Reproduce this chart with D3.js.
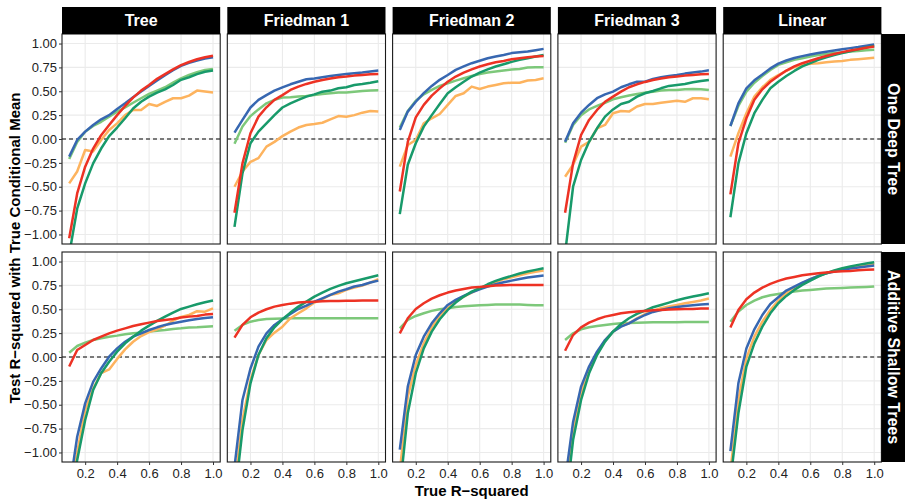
<!DOCTYPE html>
<html>
<head>
<meta charset="utf-8">
<script src="https://cdn.jsdelivr.net/npm/d3@7"></script>
<style>
body { margin: 0; background: #fff; }
svg text { font-family: "Liberation Sans", Arial, Helvetica, sans-serif; }
</style>
</head>
<body>
<svg width="905" height="499"></svg>
<script>
// facets
var columns = ["Tree", "Friedman 1", "Friedman 2", "Friedman 3", "Linear"];
var rows = ["One Deep Tree", "Additive Shallow Trees"];

var trueR2 = [0.1, 0.15, 0.2, 0.25, 0.3, 0.35, 0.4, 0.45, 0.5, 0.55, 0.6, 0.65, 0.7, 0.75, 0.8, 0.85, 0.9, 0.95, 1.0];
var xTicks = [0.2, 0.4, 0.6, 0.8, 1.0];
var yTicks = [-1, -0.75, -0.5, -0.25, 0, 0.25, 0.5, 0.75, 1];

// series order inside each panel: blue, red, dark green, light green, orange
var seriesColors = ["#3767b1", "#ed3224", "#189a6a", "#7dc87a", "#fdb35e"];
var drawOrder = [3, 4, 0, 2, 1];

// One Deep Tree
var deep_Tree = [
  [-0.185, -0.01, 0.077, 0.147, 0.206, 0.25, 0.315, 0.374, 0.437, 0.497, 0.556, 0.612, 0.668, 0.72, 0.766, 0.797, 0.822, 0.842, 0.857],
  [-1.04, -0.57, -0.29, -0.10, 0.04, 0.147, 0.25, 0.346, 0.434, 0.507, 0.566, 0.63, 0.68, 0.73, 0.773, 0.807, 0.835, 0.857, 0.872],
  [-1.21, -0.73, -0.465, -0.255, -0.10, 0.03, 0.12, 0.217, 0.32, 0.39, 0.444, 0.486, 0.52, 0.566, 0.62, 0.647, 0.68, 0.705, 0.717],
  [-0.21, -0.03, 0.077, 0.136, 0.18, 0.234, 0.287, 0.332, 0.38, 0.427, 0.472, 0.507, 0.542, 0.59, 0.636, 0.671, 0.70, 0.724, 0.734],
  [-0.465, -0.34, -0.115, -0.13, -0.01, 0.094, 0.164, 0.25, 0.304, 0.304, 0.367, 0.346, 0.39, 0.427, 0.427, 0.455, 0.507, 0.497, 0.486]
];
var deep_F1 = [
  [0.066, 0.2, 0.33, 0.41, 0.46, 0.507, 0.54, 0.573, 0.60, 0.626, 0.633, 0.647, 0.66, 0.671, 0.68, 0.689, 0.696, 0.706, 0.717],
  [-0.773, -0.255, 0.06, 0.234, 0.332, 0.41, 0.46, 0.514, 0.549, 0.577, 0.60, 0.619, 0.633, 0.647, 0.654, 0.664, 0.671, 0.678, 0.68],
  [-0.92, -0.36, -0.045, 0.077, 0.164, 0.25, 0.33, 0.374, 0.41, 0.444, 0.468, 0.496, 0.507, 0.531, 0.542, 0.566, 0.577, 0.59, 0.605],
  [-0.05, 0.13, 0.24, 0.31, 0.374, 0.41, 0.434, 0.437, 0.444, 0.451, 0.46, 0.472, 0.479, 0.486, 0.486, 0.496, 0.503, 0.507, 0.51],
  [-0.50, -0.34, -0.24, -0.20, -0.08, -0.03, 0.03, 0.077, 0.12, 0.147, 0.157, 0.17, 0.206, 0.24, 0.234, 0.25, 0.276, 0.294, 0.287]
];
var deep_F2 = [
  [0.094, 0.287, 0.39, 0.48, 0.556, 0.62, 0.67, 0.724, 0.76, 0.794, 0.82, 0.846, 0.864, 0.88, 0.90, 0.91, 0.916, 0.93, 0.944],
  [-0.55, -0.03, 0.227, 0.357, 0.455, 0.53, 0.60, 0.654, 0.696, 0.73, 0.76, 0.783, 0.804, 0.818, 0.836, 0.846, 0.857, 0.864, 0.87],
  [-0.787, -0.27, -0.045, 0.13, 0.25, 0.367, 0.48, 0.542, 0.60, 0.654, 0.696, 0.73, 0.76, 0.783, 0.808, 0.829, 0.846, 0.864, 0.88],
  [0.12, 0.294, 0.40, 0.468, 0.514, 0.556, 0.584, 0.612, 0.636, 0.66, 0.68, 0.696, 0.706, 0.717, 0.727, 0.734, 0.748, 0.752, 0.752],
  [-0.29, -0.063, -0.01, 0.164, 0.217, 0.262, 0.357, 0.451, 0.479, 0.549, 0.524, 0.549, 0.566, 0.584, 0.59, 0.59, 0.612, 0.619, 0.636]
];
var deep_F3 = [
  [-0.03, 0.164, 0.276, 0.357, 0.427, 0.468, 0.496, 0.542, 0.573, 0.60, 0.60, 0.63, 0.647, 0.66, 0.671, 0.685, 0.696, 0.706, 0.72],
  [-0.773, -0.255, 0.042, 0.20, 0.304, 0.39, 0.444, 0.496, 0.542, 0.573, 0.598, 0.619, 0.633, 0.647, 0.654, 0.664, 0.671, 0.678, 0.682],
  [-1.2, -0.50, -0.22, -0.03, 0.112, 0.234, 0.31, 0.367, 0.39, 0.444, 0.479, 0.503, 0.531, 0.556, 0.566, 0.577, 0.594, 0.608, 0.619],
  [-0.04, 0.147, 0.25, 0.31, 0.346, 0.38, 0.416, 0.437, 0.455, 0.472, 0.486, 0.496, 0.507, 0.514, 0.514, 0.521, 0.524, 0.521, 0.514],
  [-0.395, -0.27, -0.08, -0.03, 0.112, 0.147, 0.27, 0.294, 0.287, 0.34, 0.367, 0.367, 0.38, 0.39, 0.40, 0.39, 0.427, 0.427, 0.416]
];
var deep_Linear = [
  [0.136, 0.374, 0.531, 0.615, 0.675, 0.74, 0.79, 0.822, 0.848, 0.868, 0.885, 0.90, 0.915, 0.928, 0.94, 0.952, 0.964, 0.978, 0.99],
  [-0.58, -0.045, 0.217, 0.41, 0.52, 0.60, 0.66, 0.717, 0.76, 0.794, 0.82, 0.846, 0.87, 0.89, 0.91, 0.927, 0.94, 0.955, 0.969],
  [-0.82, -0.255, 0.06, 0.27, 0.41, 0.531, 0.60, 0.66, 0.713, 0.76, 0.794, 0.829, 0.857, 0.88, 0.90, 0.92, 0.94, 0.96, 0.975],
  [0.136, 0.346, 0.496, 0.59, 0.66, 0.724, 0.776, 0.804, 0.829, 0.846, 0.864, 0.88, 0.89, 0.90, 0.906, 0.916, 0.923, 0.93, 0.934],
  [-0.185, 0.06, 0.27, 0.444, 0.542, 0.619, 0.67, 0.713, 0.752, 0.776, 0.787, 0.794, 0.804, 0.811, 0.818, 0.829, 0.836, 0.843, 0.85]
];

// Additive Shallow Trees
var add_Tree = [
  [-1.4, -0.836, -0.486, -0.26, -0.12, 0.003, 0.09, 0.16, 0.213, 0.248, 0.283, 0.311, 0.336, 0.353, 0.37, 0.385, 0.398, 0.408, 0.416],
  [-0.10, 0.073, 0.126, 0.178, 0.213, 0.248, 0.276, 0.30, 0.325, 0.343, 0.36, 0.378, 0.388, 0.399, 0.413, 0.423, 0.43, 0.444, 0.451],
  [-1.55, -1.08, -0.66, -0.346, -0.171, -0.049, 0.056, 0.143, 0.213, 0.276, 0.329, 0.378, 0.423, 0.465, 0.503, 0.528, 0.552, 0.573, 0.591],
  [0.045, 0.115, 0.15, 0.178, 0.196, 0.213, 0.224, 0.238, 0.248, 0.255, 0.266, 0.276, 0.283, 0.294, 0.30, 0.308, 0.311, 0.318, 0.322],
  [-1.5, -1.0, -0.556, -0.33, -0.17, -0.13, -0.02, 0.08, 0.16, 0.22, 0.26, 0.29, 0.33, 0.38, 0.42, 0.44, 0.48, 0.475, 0.51]
];
var add_F1 = [
  [-1.15, -0.45, -0.12, 0.108, 0.248, 0.336, 0.395, 0.451, 0.503, 0.538, 0.58, 0.615, 0.65, 0.685, 0.71, 0.738, 0.755, 0.78, 0.80],
  [0.203, 0.336, 0.416, 0.465, 0.50, 0.528, 0.545, 0.559, 0.57, 0.577, 0.58, 0.584, 0.587, 0.587, 0.589, 0.59, 0.591, 0.591, 0.591],
  [-1.5, -0.766, -0.276, 0.021, 0.196, 0.311, 0.395, 0.465, 0.528, 0.58, 0.633, 0.675, 0.713, 0.745, 0.773, 0.794, 0.815, 0.836, 0.857],
  [0.276, 0.336, 0.37, 0.388, 0.399, 0.402, 0.404, 0.405, 0.406, 0.406, 0.406, 0.406, 0.406, 0.406, 0.406, 0.406, 0.406, 0.406, 0.406],
  [-1.35, -0.66, -0.24, 0.021, 0.178, 0.255, 0.318, 0.406, 0.458, 0.51, 0.57, 0.605, 0.65, 0.668, 0.703, 0.727, 0.748, 0.78, 0.815]
];
var add_F2 = [
  [-0.97, -0.31, 0.021, 0.213, 0.353, 0.458, 0.545, 0.598, 0.64, 0.678, 0.71, 0.738, 0.762, 0.783, 0.80, 0.818, 0.832, 0.843, 0.853],
  [0.248, 0.406, 0.503, 0.563, 0.612, 0.647, 0.675, 0.696, 0.713, 0.727, 0.734, 0.741, 0.748, 0.752, 0.755, 0.755, 0.755, 0.755, 0.755],
  [-1.4, -0.59, -0.17, 0.09, 0.266, 0.395, 0.493, 0.57, 0.633, 0.685, 0.72, 0.762, 0.797, 0.825, 0.85, 0.874, 0.895, 0.913, 0.93],
  [0.30, 0.388, 0.43, 0.458, 0.483, 0.50, 0.51, 0.524, 0.531, 0.538, 0.542, 0.545, 0.549, 0.549, 0.549, 0.549, 0.545, 0.542, 0.542],
  [-1.2, -0.416, -0.084, 0.143, 0.311, 0.43, 0.51, 0.58, 0.633, 0.675, 0.717, 0.752, 0.783, 0.815, 0.836, 0.857, 0.878, 0.892, 0.906]
];
var add_F3 = [
  [-1.3, -0.68, -0.31, -0.10, 0.056, 0.178, 0.266, 0.318, 0.353, 0.399, 0.44, 0.472, 0.493, 0.51, 0.524, 0.535, 0.542, 0.549, 0.556],
  [0.066, 0.23, 0.311, 0.36, 0.395, 0.423, 0.44, 0.458, 0.469, 0.476, 0.483, 0.49, 0.493, 0.497, 0.50, 0.503, 0.503, 0.507, 0.507],
  [-1.6, -0.87, -0.45, -0.171, 0.021, 0.161, 0.266, 0.346, 0.406, 0.451, 0.486, 0.521, 0.545, 0.57, 0.594, 0.615, 0.633, 0.65, 0.668],
  [0.178, 0.248, 0.29, 0.311, 0.325, 0.336, 0.346, 0.353, 0.357, 0.36, 0.362, 0.364, 0.364, 0.365, 0.365, 0.366, 0.366, 0.367, 0.367],
  [-1.45, -0.766, -0.38, -0.136, 0.038, 0.171, 0.266, 0.325, 0.353, 0.405, 0.45, 0.485, 0.51, 0.53, 0.545, 0.563, 0.577, 0.591, 0.612]
];
var add_Linear = [
  [-0.986, -0.276, 0.09, 0.29, 0.44, 0.556, 0.626, 0.696, 0.738, 0.78, 0.815, 0.85, 0.878, 0.895, 0.913, 0.927, 0.937, 0.948, 0.958],
  [0.308, 0.493, 0.605, 0.675, 0.727, 0.766, 0.797, 0.822, 0.839, 0.857, 0.867, 0.878, 0.885, 0.892, 0.899, 0.902, 0.909, 0.913, 0.916],
  [-1.3, -0.59, -0.10, 0.143, 0.318, 0.458, 0.563, 0.64, 0.703, 0.755, 0.80, 0.843, 0.878, 0.906, 0.93, 0.948, 0.965, 0.979, 0.993],
  [0.37, 0.476, 0.545, 0.591, 0.626, 0.647, 0.661, 0.675, 0.685, 0.696, 0.703, 0.71, 0.717, 0.72, 0.724, 0.727, 0.731, 0.734, 0.738],
  [-1.2, -0.45, -0.014, 0.213, 0.37, 0.493, 0.591, 0.668, 0.72, 0.773, 0.815, 0.85, 0.878, 0.902, 0.923, 0.941, 0.955, 0.965, 0.976]
];

var panelData = [
  [deep_Tree, deep_F1, deep_F2, deep_F3, deep_Linear],
  [add_Tree, add_F1, add_F2, add_F3, add_Linear]
];

var svg = d3.select("svg");

var left0 = 62, top0 = 34,
    panelW = 158.2, panelH = 210,
    gapX = 7.1, gapY = 8,
    stripH = 27;

var x = d3.scaleLinear().domain([0.055, 1.045]).range([0, panelW]);
var y = d3.scaleLinear().domain([-1.1, 1.1]).range([panelH, 0]);

var line = d3.line()
    .x(function(d) { return x(d[0]); })
    .y(function(d) { return y(d[1]); });

rows.forEach(function(rowName, r) {
    columns.forEach(function(colName, c) {
        var px = left0 + c * (panelW + gapX),
            py = top0 + r * (panelH + gapY);
        var g = svg.append("g").attr("transform", "translate(" + px + "," + py + ")");

        g.append("rect")
            .attr("width", panelW).attr("height", panelH)
            .attr("fill", "#fff");

        g.append("g").selectAll("line")
            .data(xTicks)
            .enter().append("line")
            .attr("x1", function(d) { return x(d); })
            .attr("x2", function(d) { return x(d); })
            .attr("y1", 0).attr("y2", panelH)
            .attr("stroke", "#ebebeb").attr("stroke-width", 1.1);

        g.append("g").selectAll("line")
            .data(yTicks)
            .enter().append("line")
            .attr("y1", function(d) { return y(d); })
            .attr("y2", function(d) { return y(d); })
            .attr("x1", 0).attr("x2", panelW)
            .attr("stroke", "#ebebeb").attr("stroke-width", 1.1);

        var clipId = "clip-" + r + "-" + c;
        g.append("clipPath").attr("id", clipId)
            .append("rect").attr("width", panelW).attr("height", panelH);

        var plot = g.append("g").attr("clip-path", "url(#" + clipId + ")");

        plot.append("line")
            .attr("x1", 0).attr("x2", panelW)
            .attr("y1", y(0)).attr("y2", y(0))
            .attr("stroke", "#000")
            .attr("stroke-width", 1.1)
            .attr("stroke-dasharray", "4,3");

        var series = panelData[r][c];
        drawOrder.forEach(function(s) {
            var pts = trueR2.map(function(t, i) { return [t, series[s][i]]; });
            plot.append("path")
                .datum(pts)
                .attr("d", line)
                .attr("fill", "none")
                .attr("stroke", seriesColors[s])
                .attr("stroke-width", 2.5)
                .attr("stroke-linejoin", "round");
        });

        g.append("rect")
            .attr("width", panelW).attr("height", panelH)
            .attr("fill", "none")
            .attr("stroke", "#1a1a1a").attr("stroke-width", 1.1);

        if (c === 0) {
            var ya = g.append("g")
                .call(d3.axisLeft(y).tickValues(yTicks).tickFormat(d3.format(".2f")).tickSize(3).tickPadding(2));
            ya.select(".domain").remove();
            ya.selectAll("line").attr("stroke", "#333");
            ya.selectAll("text").attr("font-size", "13px").attr("fill", "#222")
                .style("font-family", "'Liberation Sans', Arial, sans-serif");
        }
        if (r === rows.length - 1) {
            var xa = g.append("g")
                .attr("transform", "translate(0," + panelH + ")")
                .call(d3.axisBottom(x).tickValues(xTicks).tickFormat(d3.format(".1f")).tickSize(3).tickPadding(4));
            xa.select(".domain").remove();
            xa.selectAll("line").attr("stroke", "#333");
            xa.selectAll("text").attr("font-size", "13px").attr("fill", "#222")
                .style("font-family", "'Liberation Sans', Arial, sans-serif");
        }

        if (r === 0) {
            svg.append("rect")
                .attr("x", px).attr("y", top0 - stripH)
                .attr("width", panelW).attr("height", stripH)
                .attr("fill", "#000");
            svg.append("text")
                .attr("x", px + panelW / 2).attr("y", top0 - stripH / 2)
                .attr("dy", "0.36em")
                .attr("text-anchor", "middle")
                .attr("fill", "#fff")
                .attr("font-size", "16px").attr("font-weight", "bold")
                .text(colName);
        }
        if (c === columns.length - 1) {
            var sx = px + panelW;
            svg.append("rect")
                .attr("x", sx).attr("y", py)
                .attr("width", stripH).attr("height", panelH)
                .attr("fill", "#000");
            svg.append("text")
                .attr("transform", "translate(" + (sx + 12) + "," + (py + panelH / 2) + ") rotate(90)")
                .attr("dy", "0.36em")
                .attr("text-anchor", "middle")
                .attr("fill", "#fff")
                .attr("font-size", "16px").attr("font-weight", "bold")
                .text(rowName);
        }
    });
});

var plotRight = left0 + columns.length * panelW + (columns.length - 1) * gapX;
var plotBottom = top0 + rows.length * panelH + (rows.length - 1) * gapY;

svg.append("text")
    .attr("x", (left0 + plotRight) / 2).attr("y", 496)
    .attr("text-anchor", "middle")
    .attr("font-size", "15px").attr("font-weight", "bold")
    .text("True R\u2212squared");

svg.append("text")
    .attr("transform", "translate(20," + (top0 + plotBottom) / 2 + ") rotate(-90)")
    .attr("text-anchor", "middle")
    .attr("font-size", "15px").attr("font-weight", "bold")
    .text("Test R\u2212squared with True Conditional Mean");
</script>
</body>
</html>
